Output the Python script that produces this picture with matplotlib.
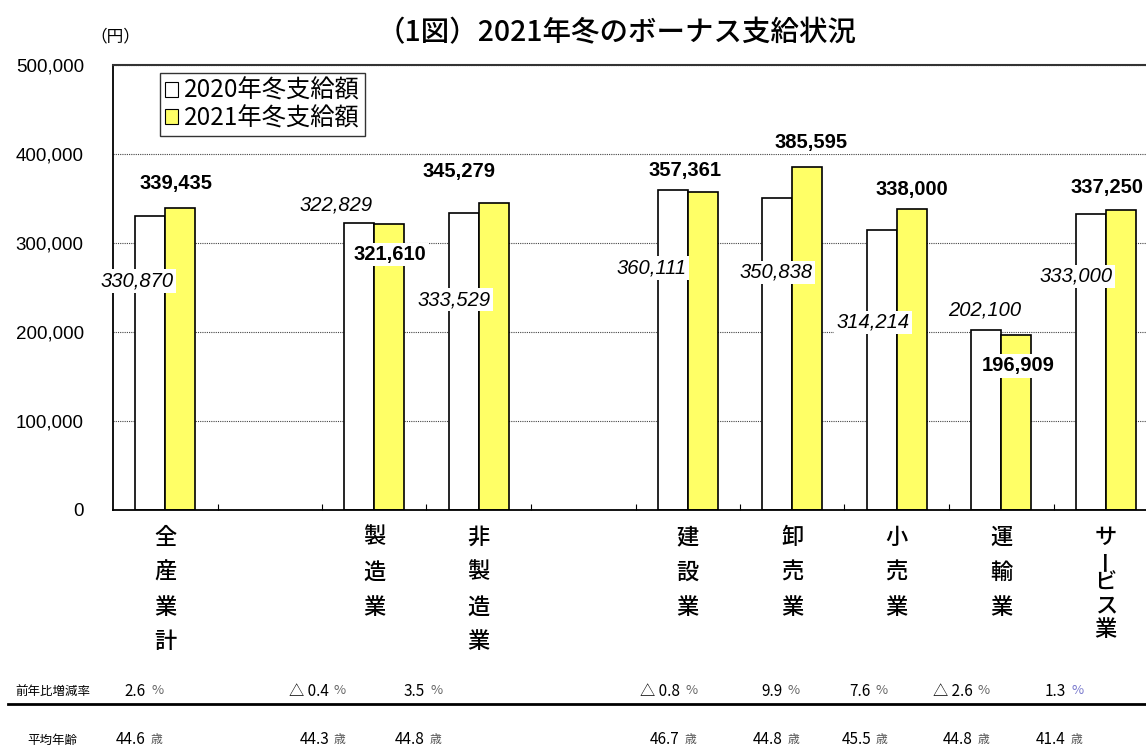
import matplotlib
matplotlib.use("Agg")
import matplotlib.pyplot as plt
import matplotlib.transforms as mtransforms
from matplotlib.lines import Line2D
from matplotlib.patches import Patch
import numpy as np

JP = ["Noto Sans CJK JP", "DejaVu Sans"]
NUM = ["Liberation Sans", "DejaVu Sans"]
plt.rcParams["font.family"] = JP

# --- data -----------------------------------------------------------------
categories = ["全産業計", "製造業", "非製造業", "建設業", "卸売業", "小売業", "運輸業", "サービス業"]
bonus_2020 = [330870, 322829, 333529, 360111, 350838, 314214, 202100, 333000]
bonus_2021 = [339435, 321610, 345279, 357361, 385595, 338000, 196909, 337250]
change_rate = ["2.6", "△ 0.4", "3.5", "△ 0.8", "9.9", "7.6", "△ 2.6", "1.3"]
avg_age = ["44.6", "44.3", "44.8", "46.7", "44.8", "45.5", "44.8", "41.4"]
y_ticks = [0, 100000, 200000, 300000, 400000, 500000]

# --- layout ---------------------------------------------------------------
W, H = 1146, 747
slot_pos = [0, 2, 3, 5, 6, 7, 8, 9]          # empty columns at 1 and 4
bar_w = 0.287
# label placement (x offset from column centre, y in yen)
lab20 = [(-0.27, 257300), (-0.366, 342700), (-0.237, 236000), (-0.342, 271900),
         (-0.155, 267400), (-0.227, 211200), (-0.156, 224700), (-0.285, 262900)]
lab21 = [(0.103, 367400), (0.151, 287600), (-0.189, 379800), (-0.026, 382000),
         (0.179, 412400), (0.146, 359600), (0.160, 161800), (0.012, 362900)]
# table columns: right edge of the number, in pixels
table_x = [146, 329, 425, 680, 783, 871, 973, 1066]

YELLOW = "#FFFF66"

fig = plt.figure(figsize=(W / 100, H / 100), dpi=100)
ax = fig.add_axes([113 / W, 1 - 510 / H, 1045 / W, 445 / H])

x = np.array(slot_pos, dtype=float)
ax.bar(x - bar_w / 2, bonus_2020, width=bar_w, color="white",
       edgecolor="black", linewidth=1.2, zorder=2)
ax.bar(x + bar_w / 2, bonus_2021, width=bar_w, color=YELLOW,
       edgecolor="black", linewidth=1.2, zorder=2)

for p, v, (dx, y) in zip(slot_pos, bonus_2020, lab20):
    ax.text(p + dx, y, f"{v:,}", ha="center", va="center", fontsize=14.5,
            style="italic", family=NUM, zorder=4,
            bbox=dict(facecolor="white", edgecolor="none", pad=1.5))
for p, v, (dx, y) in zip(slot_pos, bonus_2021, lab21):
    ax.text(p + dx, y, f"{v:,}", ha="center", va="center", fontsize=14.5,
            fontweight="bold", family=NUM, zorder=4,
            bbox=dict(facecolor="white", edgecolor="none", pad=1.5))

ax.set_xlim(-0.5, 9.5)
ax.set_ylim(0, 500000)
ax.set_yticks(y_ticks)
ax.set_yticklabels([f"{t:,}" for t in y_ticks], family=NUM, fontsize=13.5)
ax.tick_params(axis="y", length=0, pad=21)
ax.set_xticks(np.arange(0.5, 9.5, 1))
ax.set_xticklabels([])
ax.tick_params(axis="x", direction="in", length=4, width=0.8)
ax.yaxis.grid(True, linestyle=(0, (1, 1)), color="#444444", linewidth=0.8)
ax.set_axisbelow(True)
for s in ["left", "bottom"]:
    ax.spines[s].set_linewidth(1.3)
ax.spines["top"].set_color("#333333")
ax.spines["top"].set_linewidth(1.5)

# vertical category labels
tr = mtransforms.blended_transform_factory(ax.transData, fig.transFigure)
for p, name in zip(slot_pos, categories):
    step = 23 if len(name) > 4 else 35
    for k, ch in enumerate(name):
        ax.text(p, 1 - (537 + k * step) / H, ch, transform=tr, ha="center",
                va="center", fontsize=16, fontweight="medium",
                rotation=90 if ch == "ー" else 0, clip_on=False)

# titles
fig.text(617 / W, 1 - 33 / H, "（1図）2021年冬のボーナス支給状況",
         ha="center", va="center", fontsize=20.5, fontweight="medium")
fig.text(115 / W, 1 - 37 / H, "（円）", ha="center", va="center", fontsize=12)

handles = [Patch(facecolor="white", edgecolor="black", linewidth=0.8, label="2020年冬支給額"),
           Patch(facecolor=YELLOW, edgecolor="black", linewidth=0.8, label="2021年冬支給額")]
leg = fig.legend(handles=handles, loc="upper left", bbox_to_anchor=(160 / W, 1 - 73 / H),
                 frameon=True, fancybox=False, edgecolor="black", fontsize=17.5,
                 handlelength=0.55, handleheight=0.55, handletextpad=0.25,
                 borderpad=0.2, labelspacing=0.05, borderaxespad=0)
leg.get_frame().set_linewidth(1.0)

# bottom table
fig.add_artist(Line2D([8 / W, 1], [1 - 704 / H] * 2, color="black", linewidth=2))
fig.text(15 / W, 1 - 691 / H, "前年比増減率", ha="left", va="center", fontsize=9)
fig.text(27 / W, 1 - 740 / H, "平均年齢", ha="left", va="center", fontsize=9)
for i, (xp, r, a) in enumerate(zip(table_x, change_rate, avg_age)):
    fig.text(xp / W, 1 - 691 / H, r, ha="right", va="center", fontsize=11)
    fig.text((xp + 5) / W, 1 - 691 / H, "%", ha="left", va="center", fontsize=9.5,
             color="#7777cc" if i == len(table_x) - 1 else "#666666")
    fig.text(xp / W, 1 - 740 / H, a, ha="right", va="center", fontsize=11)
    fig.text((xp + 5) / W, 1 - 740 / H, "歳", ha="left", va="center", fontsize=8.5,
             color="#555555")

fig.savefig("out.png", dpi=100)
